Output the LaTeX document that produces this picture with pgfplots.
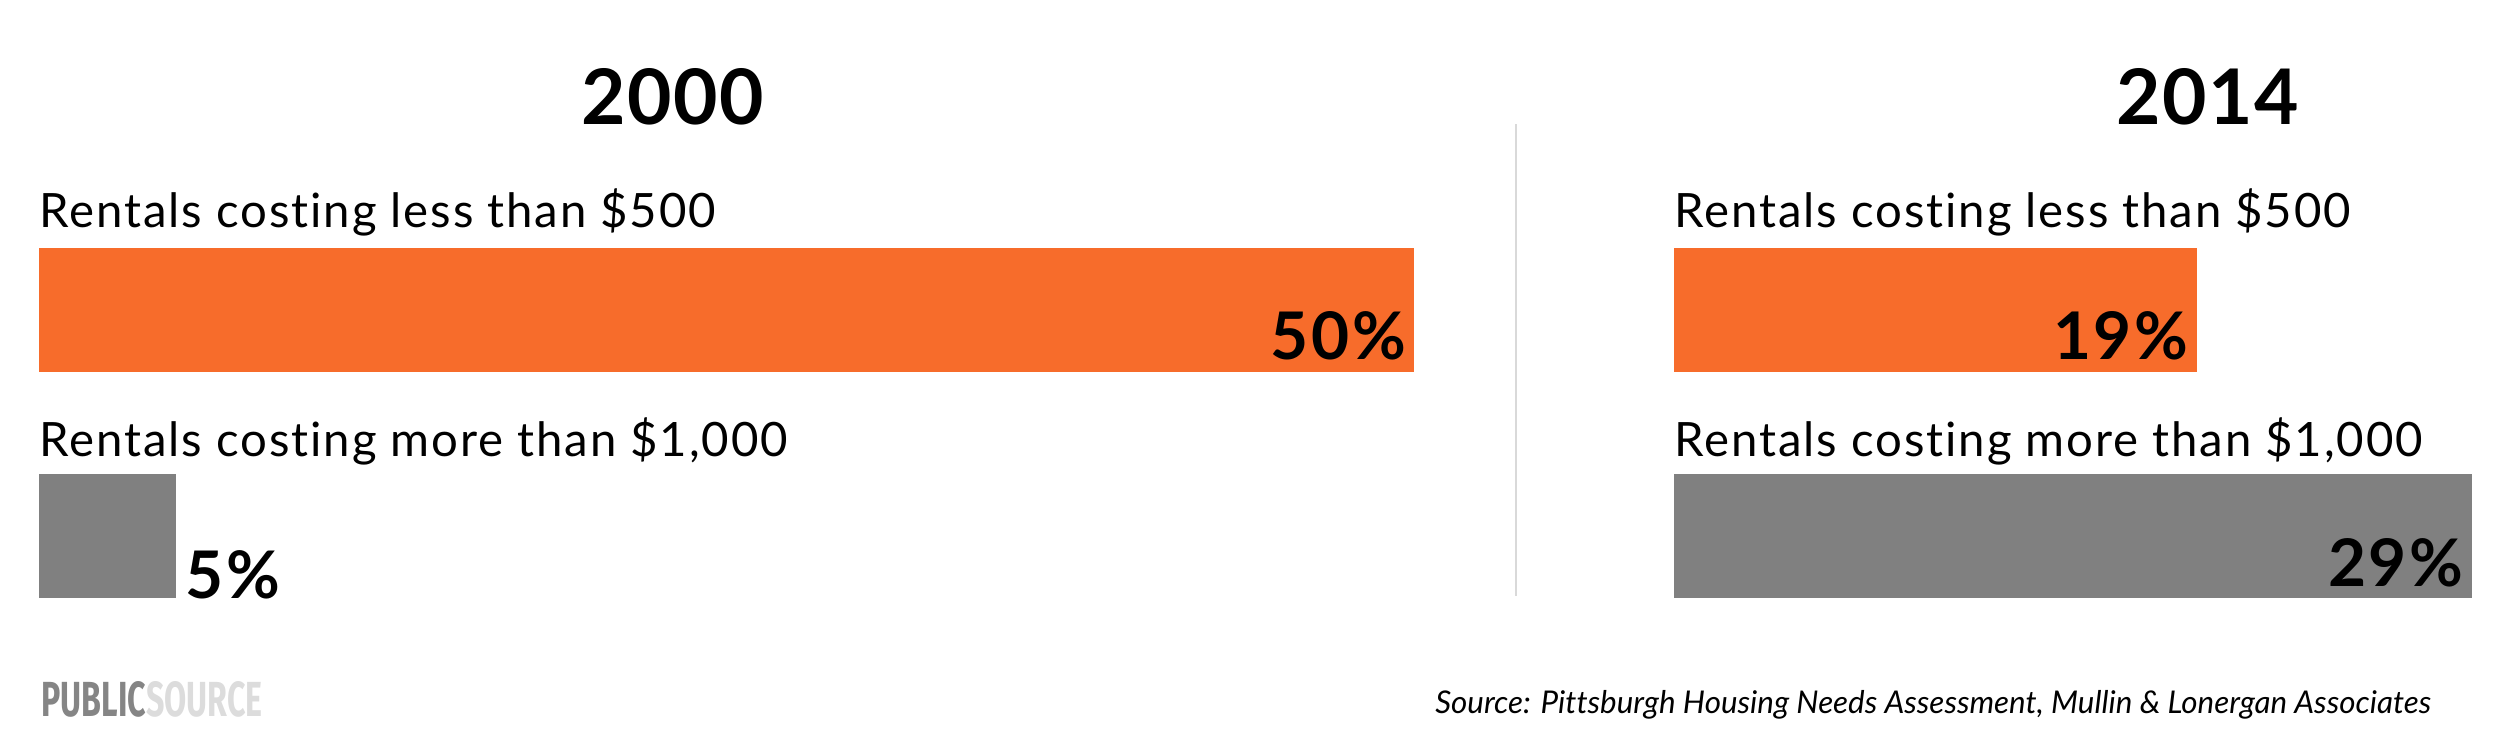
\documentclass[border=0pt]{standalone}
\usepackage{pgfplots}
\pgfplotsset{compat=1.18}
\usepackage{fontspec}
\setmainfont{Lato}[Ligatures=NoCommon]
\newfontfamily\logofont{Fira Sans}
\definecolor{psorange}{HTML}{F76C2B}
\definecolor{psgray}{HTML}{808080}
\definecolor{divider}{HTML}{D9D9D9}
\definecolor{logodark}{HTML}{858585}
\definecolor{logolight}{HTML}{DCDCDC}

\pgfplotsset{
  panel/.style={hide axis, clip=false, scale only axis, xbar, bar width=37.2pt,
    bar shift=0pt, xmin=0, ymin=-0.274, ymax=1.274, height=105pt,
    anchor=south west, point meta=x,
    /pgf/number format/assume math mode=true},
  inlab/.style={nodes near coords={\pgfmathprintnumber{\pgfplotspointmeta}\%},
    nodes near coords style={anchor=base east, xshift=-2.2pt, yshift=-15pt,
      font=\fontsize{19.7}{20}\selectfont\bfseries\addfontfeature{LetterSpace=4}, inner sep=0pt, text=black}},
  outlab/.style={nodes near coords={\pgfmathprintnumber{\pgfplotspointmeta}\%},
    nodes near coords style={anchor=base west, xshift=2.6pt, yshift=-18.6pt,
      font=\fontsize{19.7}{20}\selectfont\bfseries\addfontfeature{LetterSpace=4}, inner sep=0pt, text=black}},
}
\tikzset{catlab/.style={anchor=base west, inner sep=0pt, font=\fontsize{14.2}{16}\selectfont\addfontfeature{LetterSpace=4}}}

\begin{document}
\begin{tikzpicture}
\path[use as bounding box] (0,0) rectangle (750pt,220.5pt);

% titles
\node[anchor=base, inner sep=0pt, font=\fontsize{23}{26}\selectfont\bfseries\addfontfeature{LetterSpace=2}] at (201.9pt,183.3pt) {2000};
\node[anchor=base, inner sep=0pt, font=\fontsize{23}{26}\selectfont\bfseries\addfontfeature{LetterSpace=2}] at (662.4pt,183.3pt) {2014};

% divider
\draw[divider, line width=0.6pt] (454.8pt,183.3pt) -- (454.8pt,41.7pt);

% 2000 panel
\begin{axis}[panel, at={(11.7pt,41.1pt)}, width=412.5pt, xmax=50]
  \addplot[fill=psorange, draw=none, inlab] coordinates {(50,1)};
  \addplot[fill=psgray, draw=none, outlab] coordinates {(5,0)};
  \node[catlab] at (axis cs:0,1.363) {Rentals costing less than \$500};
  \node[catlab] at (axis cs:0,0.35) {Rentals costing more than \$1,000};
\end{axis}

% 2014 panel
\begin{axis}[panel, at={(502.2pt,41.1pt)}, width=239.25pt, xmax=29]
  \addplot[fill=psorange, draw=none, inlab] coordinates {(19,1)};
  \addplot[fill=psgray, draw=none, inlab] coordinates {(29,0)};
  \node[catlab] at (axis cs:0,1.363) {Rentals costing less than \$500};
  \node[catlab] at (axis cs:0,0.35) {Rentals costing more than \$1,000};
\end{axis}

% logo
\node[anchor=south west, inner sep=0pt] at (12.3pt,5.1pt)
  {\resizebox{66.3pt}{10.5pt}{\logofont\bfseries\textcolor{logodark}{PUBLIC}\textcolor{logolight}{SOURCE}}};

% source
\node[anchor=base east, inner sep=0pt, font=\fontsize{9.4}{11}\selectfont\itshape] at (729.5pt,6.6pt)
  {Source: Pittsburgh Housing Needs Assessment, Mullin \& Lonergan Associates};
\end{tikzpicture}
\end{document}
